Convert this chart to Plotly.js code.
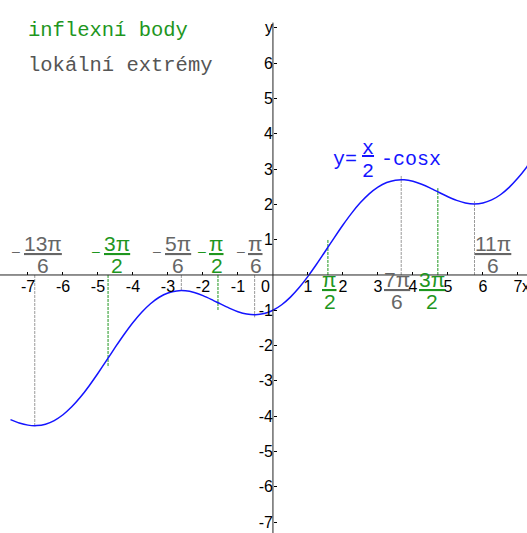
<!DOCTYPE html>
<html>
<head>
<meta charset="utf-8">
<script src="https://cdn.plot.ly/plotly-3.0.1.min.js"></script>
<style>
  html, body { margin: 0; padding: 0; background: #fff; }
  #plot { width: 527px; height: 533px; }
</style>
</head>
<body>
<div id="plot"></div>
<script>
// y = x/2 - cos x, sampled every 0.25
const curveX = [-7.5, -7.25, -7, -6.75, -6.5, -6.25, -6, -5.75, -5.5, -5.25,
  -5, -4.75, -4.5, -4.25, -4, -3.75, -3.5, -3.25, -3, -2.75,
  -2.5, -2.25, -2, -1.75, -1.5, -1.25, -1, -0.75, -0.5, -0.25,
  0, 0.25, 0.5, 0.75, 1, 1.25, 1.5, 1.75, 2, 2.25,
  2.5, 2.75, 3, 3.25, 3.5, 3.75, 4, 4.25, 4.5, 4.75,
  5, 5.25, 5.5, 5.75, 6, 6.25, 6.5, 6.75, 7, 7.25, 7.5];
const curveY = [-4.097, -4.194, -4.254, -4.268, -4.227, -4.124, -3.960, -3.736, -3.459, -3.137,
  -2.784, -2.413, -2.039, -1.679, -1.346, -1.054, -0.814, -0.631, -0.510, -0.451,
  -0.449, -0.497, -0.584, -0.697, -0.821, -0.940, -1.040, -1.107, -1.128, -1.094,
  -1.000, -0.844, -0.628, -0.357, -0.040, 0.310, 0.679, 1.053, 1.416, 1.753,
  2.051, 2.299, 2.490, 2.619, 2.686, 2.696, 2.654, 2.571, 2.461, 2.337,
  2.216, 2.113, 2.041, 2.014, 2.040, 2.126, 2.273, 2.482, 2.746, 3.056, 3.403];

// local extrema: x positions, how far the marker line reaches, labels
const extremaX = [-13 * Math.PI / 6, -5 * Math.PI / 6, -Math.PI / 6, 7 * Math.PI / 6, 11 * Math.PI / 6];
const extremaReach = [-4.27, -0.44, -1.2, 2.83, 2.09];
const extremaNum = ['13π', '5π', 'π', '7π', '11π'];
const extremaDen = ['6', '6', '6', '6', '6'];

// inflection points
const inflX = [-3 * Math.PI / 2, -Math.PI / 2, Math.PI / 2, 3 * Math.PI / 2];
const inflReach = [-2.61, -1.0, 1.0, 2.46];
const inflNum = ['3π', 'π', 'π', '3π'];
const inflDen = ['2', '2', '2', '2'];

// axis ticks
const xTickVals = [-7, -6, -5, -4, -3, -2, -1, 1, 2, 3, 4, 5, 6, 7];
const xTickText = ['-7', '-6', '-5', '-4', '-3', '-2', '-1', '1', '2', '3', '4', '5', '6', '7'];
const yTickVals = [-7, -6, -5, -4, -3, -2, -1, 1, 2, 3, 4, 5, 6, 7];
const yTickText = ['-7', '-6', '-5', '-4', '-3', '-2', '-1', '1', '2', '3', '4', '5', '6', 'y'];

const legendTexts = ['inflexní body', 'lokální extrémy'];

// label placement (pixel nudges of the fraction centre, and which side of the axis)
const extremaShift = [8, -3, 1, -4, 0];
const extremaSide = ['above', 'above', 'above', 'below', 'right'];
const inflShift = [9, -1, 2, -6];
const inflSide = ['above', 'above', 'below', 'below'];

const BLUE = '#1414ff';
const GREEN = '#1e961e';
const GREY = '#666666';
const LINE_GREY = '#9a9a9a';
const SANS = 'Liberation Sans, Arial, sans-serif';
const MONO = 'Liberation Mono, Courier New, monospace';

const X_RANGE = [-7.8, 7.26];
const Y_RANGE = [-7.31, 7.79];

const traces = [];

function markerLines(xs, reach, color) {
  xs.forEach((x, i) => {
    traces.push({
      type: 'scatter', mode: 'lines',
      x: [x, x], y: [0, reach[i]],
      line: { color: color, width: 1, dash: '3px,1px' },
      hoverinfo: 'skip', showlegend: false
    });
  });
}
markerLines(extremaX, extremaReach, LINE_GREY);
markerLines(inflX, inflReach, GREEN);

traces.push({
  type: 'scatter', mode: 'lines',
  x: curveX, y: curveY,
  line: { color: BLUE, width: 1.5, shape: 'spline', smoothing: 0.6 },
  hoverinfo: 'skip', showlegend: false
});

const annotations = [];
const FR = 21; // fraction font size

function textWidth(s) {
  let w = 0;
  for (const ch of s) w += (ch === 'π') ? 12 : 11.7;
  return w;
}

// stacked fraction label drawn next to the x axis
function fraction(x, num, den, color, side, shift) {
  const base = { xref: 'x', yref: 'y', x: x, y: 0, showarrow: false, yanchor: 'bottom',
    font: { family: SANS, size: FR, color: color } };
  const halfW = textWidth(num) / 2;
  let cx = shift;
  if (side === 'right') cx = halfW + 1;
  const above = side !== 'below';
  annotations.push(Object.assign({}, base, {
    xanchor: 'center', xshift: cx, yshift: above ? 17.5 : -18.5,
    text: '<u>' + num + '</u>'
  }));
  annotations.push(Object.assign({}, base, {
    xanchor: 'center', xshift: cx, yshift: above ? -4 : -40.5,
    text: den
  }));
  if (x < 0) {
    annotations.push(Object.assign({}, base, {
      xanchor: 'right', xshift: cx - halfW - 3, yshift: 13.5,
      font: { family: SANS, size: 14, color: color },
      text: '–'
    }));
  }
}

extremaX.forEach((x, i) => fraction(x, extremaNum[i], extremaDen[i], GREY, extremaSide[i], extremaShift[i]));
inflX.forEach((x, i) => fraction(x, inflNum[i], inflDen[i], GREEN, inflSide[i], inflShift[i]));

// origin and x-axis name
annotations.push({ xref: 'x', yref: 'y', x: 0, y: 0, xanchor: 'right', yanchor: 'top', xshift: -1, yshift: -1,
  showarrow: false, text: '0', font: { family: SANS, size: 16, color: '#000' } });
annotations.push({ xref: 'x', yref: 'y', x: 7, y: 0, xanchor: 'left', yanchor: 'top', xshift: 2, yshift: -1,
  showarrow: false, text: 'x', font: { family: SANS, size: 16, color: '#000' } });

// function name  y = x/2 - cos x
const fx = 2.729, fy = 3.343;
const tfont = { family: MONO, size: 20, color: BLUE };
const tb = { xref: 'x', yref: 'y', x: fx, y: fy, showarrow: false, yanchor: 'bottom', font: tfont };
annotations.push(Object.assign({}, tb, { xanchor: 'right', xshift: -9.5, yshift: -16, text: 'y=' }));
annotations.push(Object.assign({}, tb, { xanchor: 'center', yshift: -5, text: '<u>x</u>' }));
annotations.push(Object.assign({}, tb, { xanchor: 'center', yshift: -28, text: '2' }));
annotations.push(Object.assign({}, tb, { xanchor: 'left', xshift: 10.5, yshift: -16, text: '-cosx' }));

// key
annotations.push({ xref: 'paper', yref: 'paper', x: 0.05, y: 1 - 30 / 533, xanchor: 'left', yanchor: 'middle',
  showarrow: false, text: legendTexts[0], font: { family: MONO, size: 20.5, color: GREEN } });
annotations.push({ xref: 'paper', yref: 'paper', x: 0.05, y: 1 - 65 / 533, xanchor: 'left', yanchor: 'middle',
  showarrow: false, text: legendTexts[1], font: { family: MONO, size: 20.5, color: '#555' } });

const layout = {
  width: 527, height: 533,
  margin: { l: 0, r: 0, t: 0, b: 0, pad: 0 },
  paper_bgcolor: '#fff', plot_bgcolor: '#fff',
  showlegend: false,
  xaxis: {
    range: X_RANGE, anchor: 'free', position: -Y_RANGE[0] / (Y_RANGE[1] - Y_RANGE[0]),
    showgrid: false, zeroline: false, showline: false,
    tickmode: 'array', tickvals: xTickVals, ticktext: xTickText,
    ticks: 'inside', ticklen: 3, tickcolor: '#000', tickwidth: 1,
    tickfont: { family: SANS, size: 16, color: '#000' }, fixedrange: true
  },
  yaxis: {
    range: Y_RANGE, anchor: 'free', position: -X_RANGE[0] / (X_RANGE[1] - X_RANGE[0]),
    showgrid: false, zeroline: false, showline: false,
    tickmode: 'array', tickvals: yTickVals, ticktext: yTickText,
    ticks: 'inside', ticklen: 3, tickcolor: '#000', tickwidth: 1,
    tickfont: { family: SANS, size: 16, color: '#000' }, fixedrange: true
  },
  shapes: [
    { type: 'line', xref: 'x', yref: 'y', x0: X_RANGE[0], x1: X_RANGE[1], y0: 0, y1: 0, line: { color: '#222', width: 1 } },
    { type: 'line', xref: 'x', yref: 'y', x0: 0, x1: 0, y0: Y_RANGE[0], y1: 7.15, line: { color: '#222', width: 1 } }
  ],
  annotations: annotations
};

Plotly.newPlot('plot', traces, layout, { staticPlot: true, displayModeBar: false });
</script>
</body>
</html>
